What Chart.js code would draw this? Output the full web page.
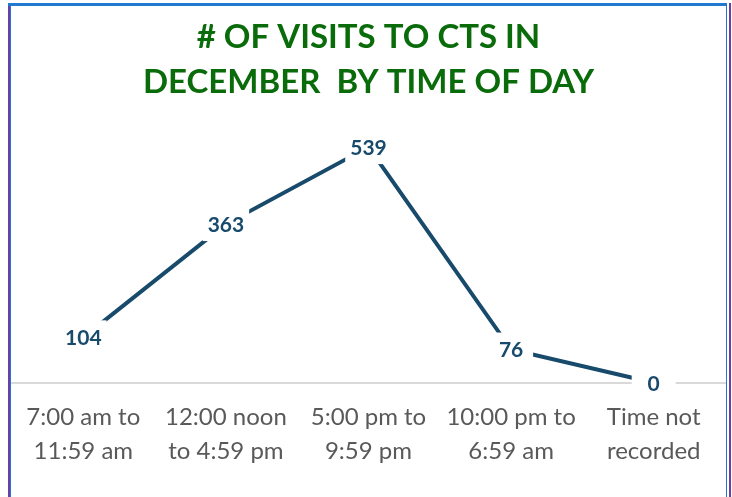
<!DOCTYPE html>
<html>
<head>
<meta charset="utf-8">
<script src="https://cdn.jsdelivr.net/npm/chart.js@4"></script>
<style>
  html, body { margin: 0; padding: 0; background: #fff; }
  #wrap { position: relative; width: 732px; height: 497px; }
  #chart { position: absolute; left: 0; top: 0; }
  .edge { position: absolute; }
</style>
</head>
<body>
<div id="wrap">
  <canvas id="chart" width="732" height="497"></canvas>
  <!-- frame lines round the chart -->
  <div class="edge" style="left:8px;top:3px;width:2px;height:494px;background:#6b3fa6"></div>
  <div class="edge" style="left:10px;top:3px;width:1px;height:494px;background:#2179d0"></div>
  <div class="edge" style="left:8px;top:3px;width:719px;height:3px;background:#2179d0"></div>
  <div class="edge" style="left:726px;top:3px;width:1px;height:494px;background:#2179d0"></div>
  <div class="edge" style="left:729px;top:3px;width:2px;height:494px;background:#6b3fa6"></div>
</div>
<script>
// ── Data ──────────────────────────────────────────────────────────────────────
const TIME_SLOTS = [
  ['7:00 am to', '11:59 am'],
  ['12:00 noon', 'to 4:59 pm'],
  ['5:00 pm to', '9:59 pm'],
  ['10:00 pm to', '6:59 am'],
  ['Time not', 'recorded'],
];
const VISITS = [104, 363, 539, 76, 0];
const TITLE_LINES = ['# OF VISITS TO CTS IN', 'DECEMBER  BY TIME OF DAY'];

const LINE_COLOR = '#184a6c';

// ── Value labels with a white box that hides the line behind them ────────────
const boxLabels = {
  id: 'boxLabels',
  afterDatasetsDraw(chart) {
    const ctx = chart.ctx;
    const meta = chart.getDatasetMeta(0);
    ctx.save();
    ctx.font = 'bold 21px Lato, sans-serif';
    ctx.textAlign = 'center';
    ctx.textBaseline = 'middle';
    meta.data.forEach((pt, i) => {
      const txt = String(VISITS[i]);
      const w = Math.max(ctx.measureText(txt).width + 10, 44);
      ctx.fillStyle = '#ffffff';
      ctx.fillRect(pt.x - w / 2, pt.y - 17, w, 34);
      ctx.fillStyle = LINE_COLOR;
      ctx.fillText(txt, pt.x, pt.y + 1);
    });
    ctx.restore();
  }
};

new Chart(document.getElementById('chart'), {
  type: 'line',
  data: {
    labels: TIME_SLOTS,
    datasets: [{
      data: VISITS,
      borderColor: LINE_COLOR,
      borderWidth: 4,
      pointRadius: 0,
      tension: 0,
      fill: false,
    }]
  },
  options: {
    responsive: false,
    animation: false,
    events: [],
    layout: { padding: { left: 12, right: 7, top: 0, bottom: 11 } },
    scales: {
      x: {
        offset: true,
        grid: { display: false, drawTicks: false },
        border: { display: true, color: '#d9d9d9', width: 2 },
        ticks: {
          color: '#595959',
          font: { family: 'Lato, sans-serif', size: 24, lineHeight: 1.4 },
          padding: 18,
          maxRotation: 0,
          autoSkip: false,
        },
      },
      y: {
        display: false,
        min: 0,
        max: 600,
      }
    },
    plugins: {
      legend: { display: false },
      tooltip: { enabled: false },
      title: {
        display: true,
        text: TITLE_LINES,
        color: '#0a6b0a',
        font: { family: 'Lato, sans-serif', size: 33, weight: 'bold', lineHeight: 1.37 },
        padding: { top: 15, bottom: 15 },
      }
    }
  },
  plugins: [boxLabels]
});
</script>
</body>
</html>
